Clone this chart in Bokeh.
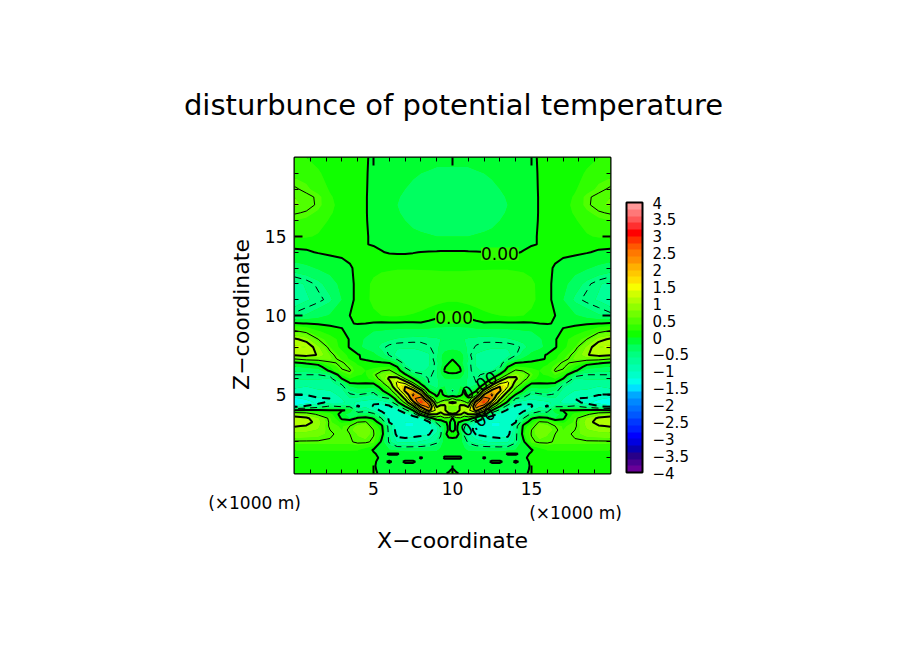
from bokeh.plotting import figure
from bokeh.embed import file_html
from bokeh.resources import INLINE
from bokeh.models import (AllLabels, ColorBar, FixedTicker, Label, LinearAxis, LinearColorMapper)
import numpy as np

TITLE = "disturbunce of potential temperature"
X_TITLE = "X\u2212coordinate"
Z_TITLE = "Z\u2212coordinate"
UNIT = "(\u00d71000 m)"
tick_values = [5, 10, 15]
minor_values = [1, 2, 3, 4, 6, 7, 8, 9, 11, 12, 13, 14, 16, 17, 18, 19]
bar_ticks = [-4, -3.5, -3, -2.5, -2, -1.5, -1, -0.5, 0, 0.5, 1, 1.5, 2, 2.5, 3, 3.5, 4]
bar_labels = ["\u22124", "\u22123.5", "\u22123", "\u22122.5", "\u22122", "\u22121.5", "\u22121", "\u22120.5",
              "0", "0.5", "1", "1.5", "2", "2.5", "3", "3.5", "4"]
band_edges = [-4 + 0.2 * i for i in range(41)]

# x positions of the left half (the field is mirrored about x = 10), in 1000 m
x_half = [0, .75, 1.5, 2.25, 3, 3.5, 4, 4.5, 5, 5.5, 6, 6.5, 7, 7.5, 8, 8.5, 9, 9.25, 9.5, 9.75, 10]
# height of each row of field_left, top down, in 1000 m
z_rows = [20, 19, 18, 17.5, 17, 16.5, 16, 15, 14.5, 14, 13, 12, 11, 10, 9.5, 9, 8.5, 8, 7.5, 7.25, 7, 6.75, 6.5, 6.25, 6,
          5.75, 5.5, 5.25, 5, 4.75, 4.5, 4.25, 4, 3.75, 3.5, 3.25, 3, 2.75, 2.5, 2, 1.5, 1.25, 1, .75, .5, .25, 0]
# potential temperature disturbance
field_left = [
 [.25, .2, .15, .1, .08, .05, .03, .01, -.02, -.05, -.08, -.1, -.12, -.14, -.15, -.16, -.17, -.17, -.17, -.17, -.17],
 [.35, .3, .22, .14, .1, .06, .03, .01, -.03, -.07, -.1, -.13, -.16, -.18, -.2, -.21, -.22, -.22, -.22, -.22, -.22],
 [.53, .45, .3, .18, .12, .08, .04, .01, -.04, -.09, -.13, -.17, -.2, -.23, -.25, -.27, -.28, -.28, -.28, -.28, -.28],
 [.6, .55, .47, .22, .13, .08, .05, .01, -.05, -.1, -.15, -.19, -.22, -.25, -.28, -.3, -.3, -.3, -.3, -.3, -.3],
 [.63, .57, .47, .24, .14, .09, .05, .01, -.05, -.11, -.16, -.2, -.24, -.27, -.3, -.31, -.32, -.32, -.32, -.32, -.32],
 [.52, .48, .36, .22, .13, .08, .05, .01, -.05, -.1, -.15, -.19, -.22, -.25, -.28, -.29, -.3, -.3, -.3, -.3, -.3],
 [.4, .35, .28, .18, .11, .07, .04, .01, -.04, -.09, -.13, -.17, -.2, -.23, -.25, -.26, -.27, -.27, -.27, -.27, -.27],
 [.25, .22, .18, .12, .08, .05, .03, .01, -.02, -.06, -.1, -.13, -.15, -.17, -.18, -.19, -.2, -.2, -.2, -.2, -.2],
 [.05, .04, .03, .02, .01, .01, .01, .005, -.01, -.03, -.05, -.07, -.08, -.09, -.1, -.1, -.1, -.1, -.1, -.1, -.1],
 [-.04, -.02, .01, .03, .04, .05, .05, .05, .04, .01, -.015, -.02, -.02, -.01, .005, .01, .015, .02, .02, .02, .02],
 [-.3, -.25, -.18, -.12, -.07, -.02, .04, .1, .14, .16, .17, .18, .18, .18, .18, .18, .18, .18, .18, .18, .18],
 [-.66, -.58, -.46, -.3, -.14, -.05, .05, .15, .24, .3, .34, .36, .37, .37, .35, .32, .3, .29, .28, .28, .28],
 [-.72, -.62, -.55, -.44, -.2, -.05, .05, .15, .25, .32, .36, .38, .38, .36, .33, .3, .26, .25, .24, .23, .23],
 [-.45, -.38, -.28, -.18, -.05, 0, .03, .1, .16, .2, .22, .22, .2, .18, .15, .1, .06, .04, .02, .01, .01],
 [.03, -.01, -.03, -.04, -.03, -.01, .01, 0, -.02, -.03, -.03, -.03, -.03, -.03, -.02, -.05, -.1, -.11, -.12, -.12, -.12],
 [.55, .42, .22, .1, .02, -.06, -.1, -.15, -.2, -.22, -.25, -.27, -.28, -.28, -.28, -.28, -.3, -.3, -.3, -.3, -.3],
 [1.05, .9, .5, .3, .12, -.02, -.15, -.22, -.3, -.35, -.38, -.42, -.44, -.45, -.46, -.44, -.42, -.4, -.38, -.37, -.36],
 [1.25, 1.2, .85, .4, .12, -.02, -.15, -.25, -.33, -.45, -.55, -.58, -.58, -.58, -.56, -.52, -.42, -.38, -.32, -.3, -.28],
 [1.02, 1.1, .98, .6, .3, .13, .02, -.06, -.14, -.3, -.52, -.65, -.7, -.7, -.65, -.62, -.45, -.25, -.12, -.05, -.03],
 [.5, .65, .7, .65, .38, .17, .02, -.04, -.1, -.15, -.3, -.55, -.72, -.75, -.72, -.62, -.4, -.25, -.08, -.03, -.02],
 [-.05, .03, .1, .45, .55, .35, .15, .1, .06, .03, 0, -.2, -.65, -.72, -.72, -.62, -.45, -.3, -.12, -.01, .1],
 [-.22, -.15, -.1, .2, .55, .48, .25, .15, .12, .18, .2, 0, -.55, -.7, -.7, -.6, -.45, -.25, -.02, .08, .12],
 [-.38, -.35, -.32, .05, .46, .52, .3, .2, .35, .48, .58, .2, -.3, -.6, -.62, -.58, -.45, -.2, .02, .06, .08],
 [-.5, -.5, -.5, -.4, .22, .42, .22, .18, .45, .65, .9, .55, .05, -.28, -.45, -.55, -.42, -.25, -.08, -.05, -.05],
 [-.58, -.58, -.58, -.62, 0, .2, .12, .1, .35, .6, 1.08, 1.25, .5, 0, -.3, -.52, -.42, -.35, -.22, -.2, -.2],
 [-.66, -.68, -.66, -.68, -.42, .02, .03, .02, .04, .42, .85, 1.58, 1.35, .5, -.12, -.5, -.45, -.35, -.25, -.25, -.28],
 [-.75, -.8, -.75, -.72, -.58, -.22, -.12, -.12, -.15, .1, .6, 1.5, 2.0, 1.3, .25, -.3, -.48, -.3, -.2, -.28, -.35],
 [-.85, -.88, -.82, -.8, -.65, -.42, -.3, -.3, -.4, -.05, .25, 1.1, 2.1, 2.15, 1.15, -.05, -.3, .05, -.15, -.35, -.52],
 [-.98, -.98, -.9, -.9, -.72, -.52, -.48, -.55, -.6, -.28, 0, .6, 1.6, 2.58, 2.0, .3, -.1, .12, -.1, -.25, -.3],
 [-1.25, -1.15, -1.02, -1.0, -.8, -.62, -.65, -.75, -.75, -.6, -.5, .25, 1.1, 2.4, 2.75, 1.2, .1, .2, .2, .2, .5],
 [-1.38, -1.3, -1.15, -.85, -.85, -.72, -.85, -.85, -.98, -.95, -.8, -.1, .6, 1.8, 3.0, 2.3, .4, .6, .9, 1.0, 1.05],
 [-1.15, -.95, -.7, -.45, -.55, -.55, -1.05, -.85, -1.02, -1.08, -1.05, -.7, 0, .85, 2.2, 2.7, .9, 1.15, 1.05, .8, .8],
 [0, .05, .05, .02, .02, -.03, -.65, -.6, -.85, -1.05, -1.1, -1.1, -.65, 0, 1.3, 2.2, 1.35, 1.2, 1.05, .8, .7],
 [.85, .75, .42, .28, -.12, -.3, -.35, -.3, -.4, -.85, -1.12, -1.15, -1.12, -.85, .25, 1.0, 1.0, .8, 1.05, 1.1, 1.05],
 [1.12, 1.05, .82, .42, -.05, -.2, .05, .1, -.03, -.5, -1.08, -1.15, -1.18, -1.18, -1.0, -.25, .25, .2, .45, .4, -.05],
 [1.15, 1.1, .9, .45, .15, .22, .5, .55, .15, -.15, -1.02, -1.15, -1.2, -1.2, -1.18, -1.08, -.4, -.2, -.05, .06, -.1],
 [1.02, .98, .85, .45, .38, .5, .65, .75, .32, .08, -.65, -1.15, -1.2, -1.2, -1.18, -1.1, -.8, -.45, -.15, .05, -.1],
 [.9, .88, .78, .5, .4, .55, .72, .8, .5, .12, -.62, -1.15, -1.18, -1.18, -1.15, -1.08, -.9, -.55, -.2, .05, -.08],
 [.75, .72, .68, .54, .42, .5, .62, .72, .52, .15, -.6, -1.1, -1.15, -1.12, -1.08, -1.03, -.75, -.55, -.05, .06, .08],
 [.47, .47, .47, .47, .47, .47, .55, .55, .45, -.05, -.55, -.82, -.85, -.82, -.78, -.7, -.55, -.35, -.1, -.08, -.08],
 [.22, .22, .22, .22, .22, .22, .22, .1, -.02, -.1, -.2, -.28, -.3, -.3, -.3, -.28, -.25, -.15, -.08, -.06, -.05],
 [.14, .14, .14, .14, .14, .14, .12, .05, .02, -.05, .02, .02, -.08, -.08, -.08, -.08, -.07, -.05, -.05, -.04, -.04],
 [.09, .09, .09, .09, .09, .09, .08, .05, .03, -.02, -.06, -.06, -.06, -.06, .015, -.06, -.05, -.05, .02, .02, .02],
 [.06, .06, .06, .06, .06, .06, .05, .04, .02, -.04, .02, -.05, .02, .02, -.05, -.05, -.05, -.05, -.05, -.05, -.05],
 [.04, .04, .04, .04, .04, .04, .03, .03, .01, -.03, -.04, -.04, -.04, -.04, -.04, -.04, -.04, -.04, -.04, -.03, -.03],
 [.03, .03, .03, .03, .03, .03, .02, .02, .01, -.02, -.03, -.03, -.03, -.03, -.03, -.03, -.03, -.03, -.03, -.02, .01],
 [.02, .02, .02, .02, .02, .02, .02, .01, .01, -.01, -.02, -.02, -.02, -.02, -.02, -.02, -.02, -.02, -.01, .01, .02],
]

palette = ["#680098", "#480090", "#280088", "#0800b0", "#0000e0", "#0000ff", "#0020ff", "#0038ff",
           "#0058ff", "#0070ff", "#0088ff", "#00a8ff", "#00e0ff", "#00ffe8", "#00ffc8", "#00ffb0",
           "#00ff98", "#00ff80", "#00ff60", "#00ff30", "#10ff00", "#30ff00", "#50ff00", "#70ff00",
           "#90ff00", "#b0ff00", "#d0ff00", "#f8ff00", "#ffe000", "#ffc800", "#ffb000", "#ff9000",
           "#ff7800", "#ff5800", "#ff3000", "#ff0000", "#ff3030", "#ff5858", "#ff7878", "#ff9898"]

FONT = "DejaVu Sans"

# mirror the half field about x = 10
x_full = np.array(x_half + [20 - v for v in x_half[-2::-1]])
z_full = np.array(z_rows[::-1])
field = np.array([row + row[-2::-1] for row in field_left[::-1]])

p = figure(width=890, height=640, output_backend="svg", toolbar_location=None,
           x_range=(0, 20), y_range=(0, 20), x_axis_location=None, y_axis_location=None,
           min_border_left=294, min_border_right=280, min_border_top=157, min_border_bottom=167,
           background_fill_color="#20ff00", border_fill_color="white")
p.grid.visible = False
p.outline_line_color = "black"
p.outline_line_width = 2

p.contour(x_full, z_full, field, levels=band_edges, fill_color=palette, line_color=None)

p.contour(x_full, z_full, field, levels=[0, 1, 2, 3], line_color="black", line_width=2)
p.contour(x_full, z_full, field, levels=[.5, 1.5, 2.5], line_color="black", line_width=1)
p.contour(x_full, z_full, field, levels=[-3, -2, -1], line_color="black", line_width=2, line_dash="8 6")
p.contour(x_full, z_full, field, levels=[-2.5, -1.5, -.5], line_color="black", line_width=1, line_dash="7 5")

ticker = FixedTicker(ticks=tick_values, minor_ticks=minor_values)
for place in ("below", "left", "above", "right"):
    ax = LinearAxis(ticker=ticker, axis_line_color=None, major_tick_in=8, major_tick_out=0,
                    minor_tick_in=4, minor_tick_out=0, major_tick_line_width=2, minor_tick_line_width=1,
                    major_label_text_font=FONT, major_label_text_font_size="17px",
                    major_label_text_color="black", major_label_standoff=8)
    if place in ("above", "right"):
        ax.major_label_overrides = {v: "" for v in tick_values}
    p.add_layout(ax, place)

mapper = LinearColorMapper(palette=palette, low=-4, high=4)
bar = ColorBar(color_mapper=mapper, ticker=FixedTicker(ticks=bar_ticks),
               major_label_overrides={k: v for k, v in zip(bar_ticks, bar_labels)},
               major_label_policy=AllLabels(),
               location=(332, 1), width=16, height=270, padding=0, margin=0,
               major_tick_line_color=None, minor_tick_line_color=None,
               bar_line_color="black", bar_line_width=2, border_line_color=None,
               background_fill_color=None, label_standoff=10,
               major_label_text_color="black",
               major_label_text_font=FONT, major_label_text_font_size="15px")
p.add_layout(bar, "center")


def caption(text, px, py, size, place, **kw):
    """Place a text by its pixel position in the photograph; side panels do not clip it."""
    p.add_layout(Label(x=px, y=py, x_units="canvas", y_units="canvas", text=text,
                       text_font=FONT, text_font_size=size, text_align="center", text_color="black",
                       text_baseline="middle", **kw), place)


caption(TITLE, 453, 104, "29px", "above")
caption(X_TITLE, 452, 540, "22px", "below")
caption(Z_TITLE, 241, 314, "22px", "left", angle=np.pi / 2)
caption(UNIT, 254, 502, "17px", "below")
caption(UNIT, 575, 512, "17px", "below")

contour_note = "0.00"
for nx, nz, ang, bg in [(13.0, 13.9, 0, "#30ff00"), (10.1, 9.9, 0, "#30ff00"),
                        (11.7, 5.6, .55, None), (11.6, 3.3, .6, None)]:
    p.add_layout(Label(x=nx, y=nz, text=contour_note, text_font=FONT, text_font_size="17px",
                       text_align="center", text_baseline="middle", angle=ang, text_color="black",
                       background_fill_color=bg))

open("out.html", "w").write(file_html(p, INLINE))
